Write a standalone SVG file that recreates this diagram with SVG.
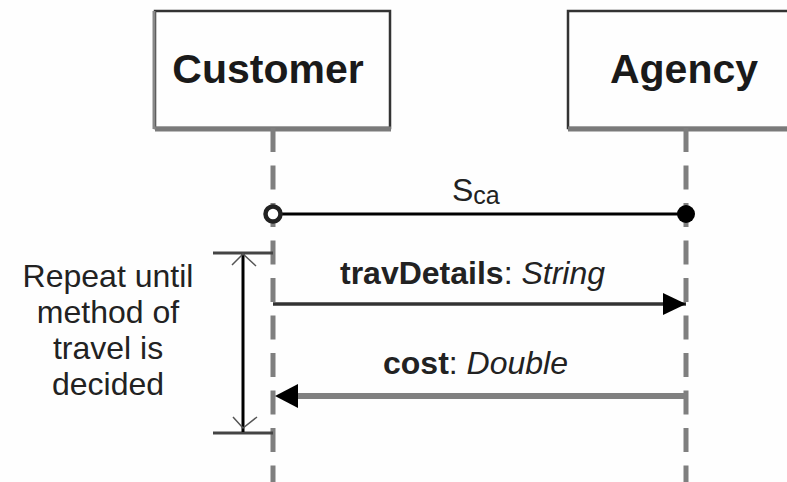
<svg xmlns="http://www.w3.org/2000/svg" width="787" height="482" viewBox="0 0 787 482">
<style>
  .box{fill:#fefefe;stroke:#333;stroke-width:2.5}
  .shadow{stroke:#7a7a7a;stroke-width:5;fill:none}
  .title{font-family:"Liberation Sans",Arial,sans-serif;font-weight:bold;font-size:41px;fill:#1a1a1a;text-anchor:middle}
  .life{stroke:#7f7f7f;stroke-width:5;stroke-dasharray:24 13.5;fill:none}
  .lbl{font-family:"Liberation Sans",Arial,sans-serif;font-size:32px;fill:#222}
  .b{font-weight:bold}
  .i{font-style:italic}
</style>
<defs>
  <marker id="headR" markerWidth="24" markerHeight="22" refX="23" refY="11" orient="auto" markerUnits="userSpaceOnUse">
    <path d="M0,0 L23,11 L0,22 Z" fill="#000"/>
  </marker>
</defs>
<rect width="787" height="482" fill="#fefefe"/>

<g id="customer">
  <rect class="box" x="155" y="11" width="235" height="117"/>
  <path class="shadow" d="M155,129 L391,129"/>
  <path d="M154,11 L154,129" stroke="#888" stroke-width="3"/>
  <text class="title" x="268" y="83">Customer</text>
</g>

<g id="agency">
  <rect class="box" x="568" y="11" width="240" height="117"/>
  <path class="shadow" d="M568,129 L787,129"/>
  <text class="title" x="684" y="83">Agency</text>
</g>

<g id="lifelines">
  <line class="life" x1="273" y1="128" x2="273" y2="482"/>
  <line class="life" x1="686" y1="128" x2="686" y2="482"/>
</g>

<g id="connectors">
  <line x1="280" y1="214" x2="686" y2="214" stroke="#000" stroke-width="3"/>
  <circle cx="273" cy="214" r="7.5" fill="#fff" stroke="#222" stroke-width="4.5"/>
  <circle cx="686" cy="214" r="9" fill="#000"/>
  <line x1="273" y1="304" x2="686" y2="304" stroke="#333" stroke-width="3.5" marker-end="url(#headR)"/>
  <line x1="686" y1="396" x2="297" y2="396" stroke="#808080" stroke-width="6"/>
  <path d="M275,396 L298,384 L298,408 Z" fill="#000"/>
</g>

<g id="repeat">
  <line x1="213" y1="253" x2="273" y2="253" stroke="#444" stroke-width="3"/>
  <line x1="213" y1="433" x2="273" y2="433" stroke="#444" stroke-width="3"/>
  <line x1="243" y1="254" x2="243" y2="432" stroke="#000" stroke-width="3"/>
  <path d="M232,265 L243,254 L256,266" fill="none" stroke="#555" stroke-width="1.5"/>
  <path d="M233,417 L243,428 L257,417" fill="none" stroke="#555" stroke-width="1.5"/>
  <text class="lbl" text-anchor="middle" x="108" y="287">Repeat until</text>
  <text class="lbl" text-anchor="middle" x="108" y="323">method of</text>
  <text class="lbl" text-anchor="middle" x="108" y="359">travel is</text>
  <text class="lbl" text-anchor="middle" x="108" y="395">decided</text>
</g>

<g id="labels">
  <text class="lbl" x="452" y="201">S<tspan font-size="25" dy="3">ca</tspan></text>
  <text class="lbl" x="340" y="284"><tspan class="b">travDetails</tspan>: <tspan class="i">String</tspan></text>
  <text class="lbl" x="383" y="374"><tspan class="b">cost</tspan>: <tspan class="i">Double</tspan></text>
</g>
</svg>
